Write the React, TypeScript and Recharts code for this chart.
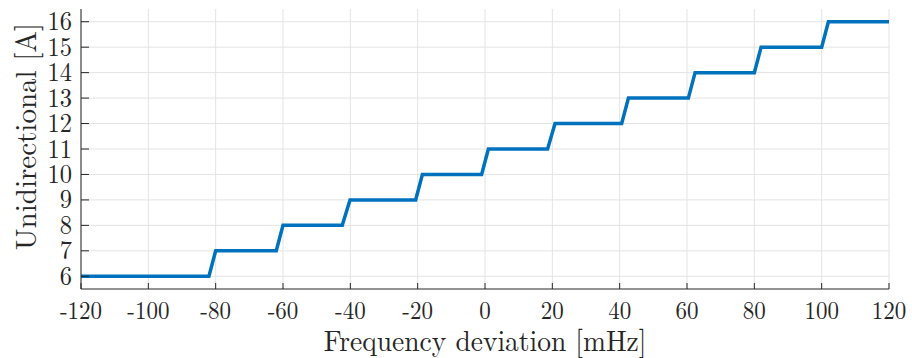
import React from 'react';
import { LineChart, Line, XAxis, YAxis, CartesianGrid, Label } from 'recharts';

const freqDeviation = [-120, -82, -80, -62, -60, -42.4, -40.1, -20.6, -18.6, -1, 1, 18.6, 20.8, 40.6, 42.6, 60.4, 62.4, 80, 82, 100, 102, 120];
const unidirectional = [6, 6, 7, 7, 8, 8, 9, 9, 10, 10, 11, 11, 12, 12, 13, 13, 14, 14, 15, 15, 16, 16];
const xTicks = [-120, -100, -80, -60, -40, -20, 0, 20, 40, 60, 80, 100, 120];
const yTicks = [6, 7, 8, 9, 10, 11, 12, 13, 14, 15, 16];

const data = freqDeviation.map((x, i) => ({ x, y: unidirectional[i] }));

const FONT = '"Latin Modern Roman", "Liberation Serif", serif';
const TEXT = '#262626';

const XTick = (props: any) => {
  const { x, y, payload } = props;
  return (
    <text
      transform={`translate(${x},${y + 17}) scale(1,1.1)`}
      textAnchor="middle"
      fill={TEXT}
      fontSize={23}
      fontFamily={FONT}
    >
      {payload.value}
    </text>
  );
};

const YTick = (props: any) => {
  const { x, y, payload } = props;
  return (
    <text
      transform={`translate(${x},${y + 8.5}) scale(1,1.12)`}
      textAnchor="end"
      fill={TEXT}
      fontSize={24.5}
      fontFamily={FONT}
    >
      {payload.value}
    </text>
  );
};

export default function App() {
  return (
    <div style={{ position: 'absolute', left: 0, top: 0, width: 912, height: 358, background: '#fff' }}>
      <LineChart width={912} height={358} data={data} margin={{ top: 9, right: 23, left: 0, bottom: 39 }}>
        <CartesianGrid stroke="#e3e3e3" strokeWidth={1} horizontalValues={yTicks} verticalValues={xTicks} />
        <XAxis
          dataKey="x"
          type="number"
          domain={[-120, 120]}
          ticks={xTicks}
          interval={0}
          height={30}
          allowDataOverflow
          stroke={TEXT}
          tickSize={-6}
          tickMargin={19}
          tick={<XTick />}
        >
          <Label
            content={(props: any) => {
              const vb = props.viewBox;
              const cx = vb.x + vb.width / 2;
              return (
                <text
                  transform={`translate(${cx},351) scale(1,1.08)`}
                  textAnchor="middle"
                  fill={TEXT}
                  fontSize={27.5}
                  fontFamily={FONT}
                >
                  Frequency deviation [mHz]
                </text>
              );
            }}
          />
        </XAxis>
        <YAxis
          type="number"
          domain={[5.5, 16.5]}
          ticks={yTicks}
          interval={0}
          width={81}
          allowDataOverflow
          stroke={TEXT}
          tickSize={-8}
          tickMargin={17}
          tick={<YTick />}
        >
          <Label
            content={() => (
              <text
                x={36}
                y={136.5}
                transform="rotate(-90 36 136.5)"
                textAnchor="middle"
                fill={TEXT}
                fontSize={29}
                fontFamily={FONT}
              >
                Unidirectional [A]
              </text>
            )}
          />
        </YAxis>
        <Line
          type="linear"
          dataKey="y"
          stroke="#0072BD"
          strokeWidth={3.5}
          dot={false}
          isAnimationActive={false}
        />
      </LineChart>
    </div>
  );
}
